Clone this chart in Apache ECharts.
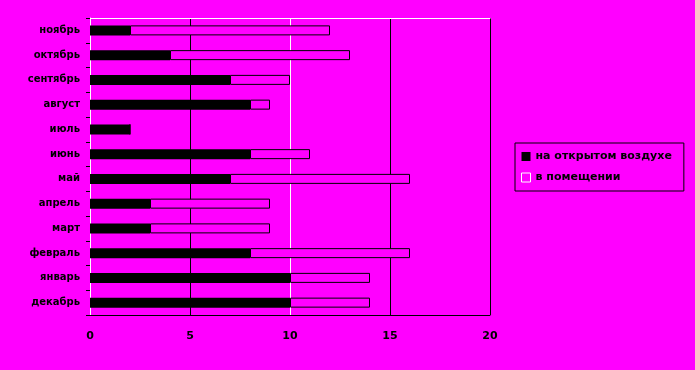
<!DOCTYPE html>
<html><head><meta charset="utf-8">
<script src="https://cdn.jsdelivr.net/npm/echarts@6/dist/echarts.min.js"></script>
<style>html,body{margin:0;padding:0;background:#ff00ff;}#c{width:695px;height:370px;}</style>
</head><body><div id="c"></div>
<script>
const months = ['декабрь','январь','февраль','март','апрель','май','июнь','июль','август','сентябрь','октябрь','ноябрь'];
const outdoor = [10, 10, 8, 3, 3, 7, 8, 2, 8, 7, 4, 2];
const indoor = [4, 4, 8, 6, 6, 9, 3, 0, 1, 3, 9, 10];
const xTicks = [0, 5, 10, 15, 20];
const seriesNames = ['на открытом воздухе', 'в помещении'];

const labelFont = {color:'#000', fontFamily:'DejaVu Sans, sans-serif', fontWeight:'bold', fontSize:10,
  textShadowColor:'#fff', textShadowOffsetX:-1, textShadowOffsetY:-1, textShadowBlur:0};

const chart = echarts.init(document.getElementById('c'));
chart.setOption({
  backgroundColor:'#ff00ff',
  animation:false,
  grid:{left:90, top:18, width:400, height:297, containLabel:false},
  legend:{
    orient:'vertical', left:515, top:143,
    padding:[8,12,8,6], itemGap:10, itemWidth:9, itemHeight:9,
    borderColor:'#000', borderWidth:1, backgroundColor:'#ff00ff',
    textStyle:{color:'#000', fontFamily:'DejaVu Sans, sans-serif', fontWeight:'bold', fontSize:11},
    data:[
      {name:seriesNames[0], icon:'rect', itemStyle:{color:'#000', borderWidth:0}},
      {name:seriesNames[1], icon:'rect', itemStyle:{color:'#ff00ff', borderColor:'#fff', borderWidth:1}}
    ]
  },
  xAxis:[{
    type:'value', min:0, max:20, interval:5, position:'bottom',
    axisLine:{show:true, lineStyle:{color:'#000', width:1}},
    axisTick:{show:false},
    axisLabel:Object.assign({}, labelFont, {margin:16, fontSize:11}),
    splitLine:{show:true, lineStyle:{color:['#fff','#000','#fff','#000','#000'], width:1}}
  },{
    type:'value', min:0, max:20, interval:5, position:'top',
    axisLine:{show:true, lineStyle:{color:'#fff', width:1}},
    axisTick:{show:false}, axisLabel:{show:false}, splitLine:{show:false}
  }],
  yAxis:{
    type:'category', data:months,
    axisLine:{show:true, onZero:false, lineStyle:{color:'#fff', width:1}},
    axisTick:{show:true, length:4, lineStyle:{color:'#000'}},
    axisLabel:Object.assign({}, labelFont, {margin:10})
  },
  series:[
    {name:seriesNames[0], type:'bar', stack:'a', data:outdoor, barWidth:10,
      itemStyle:{color:'#000'}},
    {name:seriesNames[1], type:'bar', stack:'a', data:indoor, barWidth:10,
      itemStyle:{color:'#ff00ff', borderColor:'#000', borderWidth:1}}
  ]
});
</script></body></html>
